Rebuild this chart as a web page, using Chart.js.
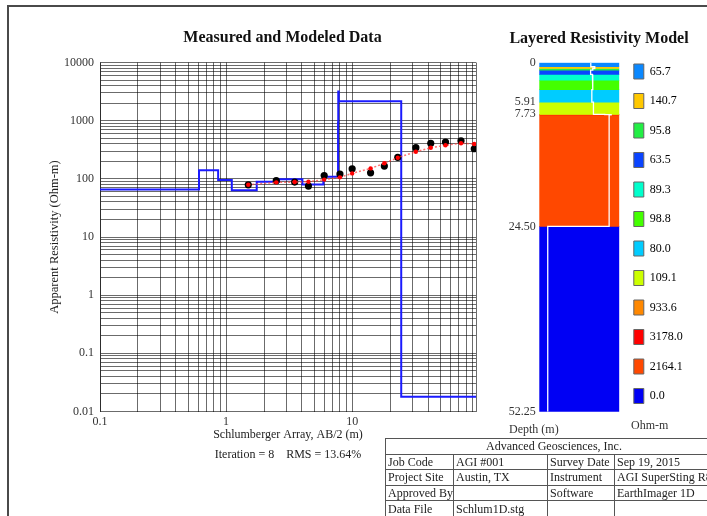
<!DOCTYPE html>
<html>
<head>
<meta charset="utf-8">
<script src="https://cdn.jsdelivr.net/npm/chart.js@4.4.1/dist/chart.umd.min.js"></script>
<style>
  html, body { margin:0; padding:0; background:#fff; width:707px; height:516px; overflow:hidden; position:relative; }
  #frame { position:absolute; left:7px; top:5px; width:800px; height:600px; border-left:2px solid #4a4a4a; border-top:2px solid #4a4a4a; }
  canvas { position:absolute; top:0; }
  #c1 { left:0; }
  #c2 { left:480px; }
  .lbl { position:absolute; font-family:'Liberation Serif','Times New Roman',serif; font-size:12px; color:#333; white-space:nowrap; line-height:14px; }
  table { position:absolute; left:385px; top:438px; width:339px; border-collapse:collapse; table-layout:fixed;
          font-family:'Liberation Serif','Times New Roman',serif; font-size:12px; color:#222; }
  td { border:1px solid #555; padding:0 2px; height:14.6px; line-height:14px; white-space:nowrap; overflow:visible; }
</style>
</head>
<body>
<div id="frame"></div>
<canvas id="c1" width="565" height="470"></canvas>
<canvas id="c2" width="227" height="470"></canvas>
<div class="lbl" style="left:509px; top:422px;">Depth (m)</div>
<div class="lbl" style="left:631px; top:418px;">Ohm-m</div>
<table>
  <colgroup><col style="width:68px"><col style="width:94px"><col style="width:67px"><col style="width:110px"></colgroup>
  <tr><td colspan="4" style="padding-left:100px;">Advanced Geosciences, Inc.</td></tr>
  <tr><td>Job Code</td><td>AGI #001</td><td>Survey Date</td><td>Sep 19, 2015</td></tr>
  <tr><td>Project Site</td><td>Austin, TX</td><td>Instrument</td><td>AGI SuperSting R8</td></tr>
  <tr><td>Approved By</td><td></td><td>Software</td><td>EarthImager 1D</td></tr>
  <tr><td>Data File</td><td>Schlum1D.stg</td><td></td><td></td></tr>
</table>
<script>
// ---------------- data ----------------
const AB2      = [1.5, 2.5, 3.5, 4.5, 6, 8, 10, 14, 18, 23, 32, 42, 55, 73, 93];
const MEASURED = [79, 93, 88, 75, 114, 121, 149, 127, 166, 234, 343, 408, 429, 452, 329];
const MODELED  = [79, 87, 88, 89, 97, 106, 124, 151, 185, 231, 292, 343, 377, 408, 397];

const LAYER_TOP    = [0, 0.61, 0.865, 1.11, 1.75, 2.63, 4.03, 5.91, 7.73, 7.76, 7.82, 24.50];
const LAYER_BOTTOM = [0.61, 0.865, 1.11, 1.75, 2.63, 4.03, 5.91, 7.73, 7.76, 7.82, 24.50, 52.25];
const LAYER_RHO    = [65.7, 140.7, 95.8, 63.5, 89.3, 98.8, 80.0, 109.1, 933.6, 3178.0, 2164.1, 0.018];
const LAYER_COLORS = ['#0a88ff', '#ffc800', '#22ee44', '#0a44ff', '#00ffcc', '#44ff00',
                      '#00ccff', '#ccff00', '#ff8800', '#ff0000', '#ff4800', '#0000f4'];

const DEPTH_TICKS = [0, 5.91, 7.73, 24.50, 52.25];
const X_LABEL_VALUES = [0.1, 1, 10];
const X_LABELS = ['0.1', '1', '10'];
const Y_LABEL_VALUES = [0.01, 0.1, 1, 10, 100, 1000, 10000];
const Y_LABELS = ['0.01', '0.1', '1', '10', '100', '1000', '10000'];

const X_MIN = 0.1, X_MAX = 96;
const Y_MIN = 0.01, Y_MAX = 10000;
const PROFILE_MIN = 0.0036, PROFILE_MAX = 15000;

// ---------------- helpers ----------------
const SERIF = "'Liberation Serif', 'Times New Roman', serif";
Chart.defaults.font.family = SERIF;
Chart.defaults.color = '#333';

// log grid positions 1..9 x 10^n between lo and hi (inclusive of lo)
function logGrid(lo, hi) {
  const out = [];
  for (let d = lo; d < hi * 0.999; d *= 10) {
    for (let s = 1; s <= 9; s++) out.push(+(s * d).toPrecision(3));
  }
  return out;
}
const X_GRID = logGrid(0.1, 100).filter(v => v < X_MAX).concat([X_MAX]);
const Y_GRID = logGrid(0.01, 10000).concat([Y_MAX]);
const GRID_COLOR = 'rgba(0,0,0,0.58)';

// ---------------- left chart ----------------
const modelLine = LAYER_TOP.map((d, i) => ({ x: Math.max(d, X_MIN), y: LAYER_RHO[i] }));
modelLine.push({ x: X_MAX, y: LAYER_RHO[LAYER_RHO.length - 1] });

new Chart(document.getElementById('c1'), {
  type: 'line',
  data: {
    datasets: [
      { label: 'Modeled', data: AB2.map((x, i) => ({ x, y: MODELED[i] })),
        borderColor: 'rgba(255,70,70,0.75)', borderWidth: 1.5, borderDash: [2, 2],
        pointRadius: 2.2, pointBackgroundColor: '#ff0000', pointBorderWidth: 0, fill: false, tension: 0 },
      { label: 'Measured', data: AB2.map((x, i) => ({ x, y: MEASURED[i] })),
        showLine: false, pointRadius: 3.6, pointBackgroundColor: '#000', pointBorderWidth: 0 },
      { label: 'Layer model', data: modelLine, stepped: 'before',
        borderColor: '#1a1aff', borderWidth: 2, pointRadius: 0, fill: false }
    ]
  },
  options: {
    responsive: false, animation: false, devicePixelRatio: 1,
    layout: { padding: { left: 0, right: 0, top: 0, bottom: 0 } },
    plugins: {
      legend: { display: false }, tooltip: { enabled: false },
      title: { display: true, text: 'Measured and Modeled Data', color: '#111',
               font: { size: 16, weight: 'bold', family: SERIF, lineHeight: 1.2 },
               padding: { top: 28, bottom: 15.3 } }
    },
    scales: {
      x: {
        type: 'logarithmic', position: 'bottom', min: X_MIN, max: X_MAX, bounds: 'data',
        afterBuildTicks: s => { s.ticks = X_GRID.map(v => ({ value: v })); },
        afterFit: s => { s.height = 58.5; },
        ticks: { autoSkip: false, maxRotation: 0, minRotation: 0, padding: 3, color: '#333',
                 font: { size: 12 },
                 callback: v => { const k = X_LABEL_VALUES.indexOf(v); return k >= 0 ? X_LABELS[k] : ''; } },
        grid: { color: GRID_COLOR, lineWidth: 1, drawTicks: false },
        border: { display: false },
        title: { display: true, text: ['Schlumberger Array, AB/2 (m)', 'Iteration = 8    RMS = 13.64%'],
                 color: '#222', font: { size: 12, lineHeight: 1.65 }, padding: { top: 0, bottom: 5.7 } }
      },
      y: {
        type: 'logarithmic', position: 'left', min: Y_MIN, max: Y_MAX, bounds: 'data',
        afterBuildTicks: s => { s.ticks = Y_GRID.map(v => ({ value: v })); },
        afterFit: s => { s.width = 100; },
        ticks: { autoSkip: false, padding: 6, color: '#333', font: { size: 12 },
                 callback: v => { const k = Y_LABEL_VALUES.indexOf(v); return k >= 0 ? Y_LABELS[k] : ''; } },
        grid: { color: GRID_COLOR, lineWidth: 1, drawTicks: false },
        border: { display: true, color: GRID_COLOR },
        title: { display: true, text: 'Apparent Resistivity (Ohm-m)', color: '#222',
                 font: { size: 12.5, lineHeight: 1.2 }, padding: { top: 47.5, bottom: 0 } }
      },
      yR: {
        type: 'linear', position: 'right', display: true,
        afterFit: s => { s.width = 89; },
        ticks: { display: false }, grid: { display: false, drawTicks: false }, border: { display: false }
      }
    }
  }
});

// ---------------- right chart (layered model) ----------------
const whiteProfile = [];
LAYER_RHO.forEach((r, i) => { whiteProfile.push({ x: r, y: LAYER_TOP[i] }, { x: r, y: LAYER_BOTTOM[i] }); });

const layerSets = LAYER_RHO.map((r, i) => ({
  label: r.toFixed(1), data: [[LAYER_TOP[i], LAYER_BOTTOM[i]]],
  backgroundColor: LAYER_COLORS[i], borderWidth: 0, grouped: false,
  barPercentage: 1, categoryPercentage: 1, xAxisID: 'x', yAxisID: 'y'
}));

new Chart(document.getElementById('c2'), {
  type: 'bar',
  data: {
    labels: [''],
    datasets: [
      { type: 'line', label: 'profile', data: whiteProfile, xAxisID: 'x2', yAxisID: 'y',
        borderColor: '#ffffff', borderWidth: 1.3, pointRadius: 0, fill: false, tension: 0 },
      ...layerSets
    ]
  },
  options: {
    responsive: false, animation: false, devicePixelRatio: 1,
    layout: { padding: { left: 26.7, right: 15.7, top: 0, bottom: 52 } },
    plugins: {
      tooltip: { enabled: false },
      title: { display: true, text: 'Layered Resistivity Model', color: '#111',
               font: { size: 16, weight: 'bold', family: SERIF, lineHeight: 1.2 },
               padding: { top: 28.8, bottom: 14.7 } },
      legend: {
        display: true, position: 'right', align: 'end', maxWidth: 72,
        labels: {
          boxWidth: 10, boxHeight: 15, padding: 14.5, color: '#333', font: { size: 12, family: SERIF },
          generateLabels: chart => chart.data.datasets.slice(1).map((ds, i) => ({
            text: ds.label, fillStyle: ds.backgroundColor, strokeStyle: '#666', lineWidth: 1,
            hidden: false, datasetIndex: i + 1
          }))
        }
      }
    },
    scales: {
      x: { type: 'category', display: true, offset: true,
           afterFit: s => { s.height = 6.3; },
           ticks: { display: false }, grid: { display: false, drawTicks: false }, border: { display: false } },
      x2: { type: 'logarithmic', display: false, min: PROFILE_MIN, max: PROFILE_MAX },
      y: { type: 'linear', reverse: true, min: 0, max: 52.25, bounds: 'data',
           afterBuildTicks: s => { s.ticks = DEPTH_TICKS.map(v => ({ value: v })); },
           afterFit: s => { s.width = 32.6; },
           ticks: { autoSkip: false, padding: 3.6, color: '#333', font: { size: 12 },
                    callback: v => (v === 0 ? '0' : v.toFixed(2)) },
           grid: { display: false, drawTicks: false }, border: { display: false } }
    }
  }
});
</script>
</body>
</html>
